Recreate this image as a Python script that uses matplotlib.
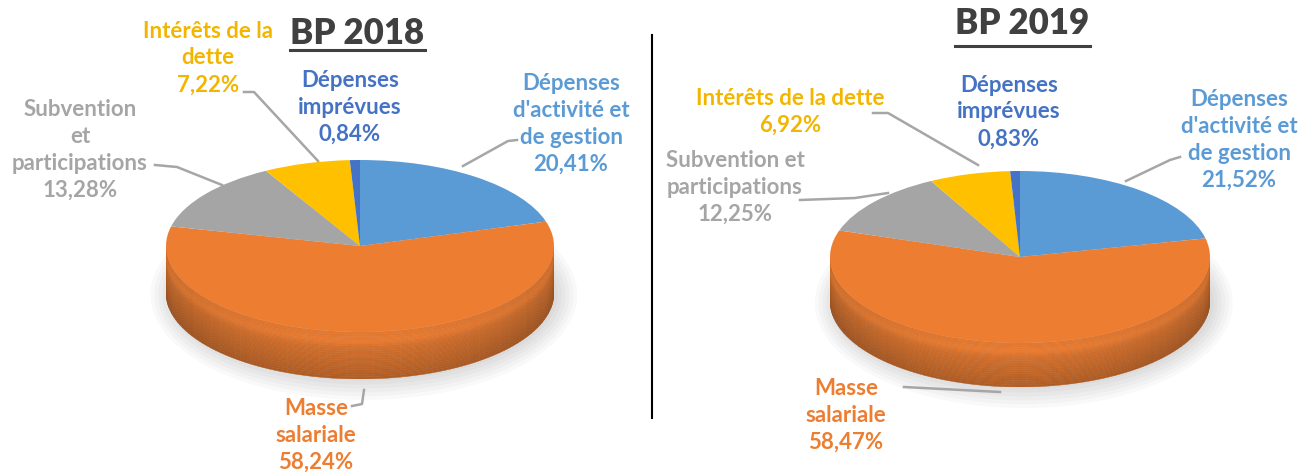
import numpy as np
import matplotlib.pyplot as plt
from matplotlib import font_manager
from matplotlib.collections import PolyCollection
from matplotlib.patches import Ellipse
from matplotlib.colors import to_rgb

# Data
categories = ["Dépenses d'activité et de gestion", 'Masse salariale',
              'Subvention et participations', 'Intérêts de la dette',
              'Dépenses imprévues']
bp2018 = [20.41, 58.24, 13.28, 7.22, 0.84]
bp2019 = [21.52, 58.47, 12.25, 6.92, 0.83]

labels_2018 = ["Dépenses\nd'activité et\nde gestion", "Masse\nsalariale",
               "Subvention\net\nparticipations", "Intérêts de la\ndette",
               "Dépenses\nimprévues"]
labels_2019 = ["Dépenses\nd'activité et\nde gestion", "Masse\nsalariale",
               "Subvention et\nparticipations", "Intérêts de la dette",
               "Dépenses\nimprévues"]

colors = ['#5B9BD5', '#ED7D31', '#A5A5A5', '#FFC000', '#4472C4']
text_colors = ['#5B9BD5', '#ED7D31', '#A5A5A5', '#F2B600', '#4472C4']

# font
names = {f.name for f in font_manager.fontManager.ttflist}
font = 'Lato' if 'Lato' in names else 'DejaVu Sans'
plt.rcParams['font.family'] = [font, 'DejaVu Sans']

W, H = 1304, 475
fig = plt.figure(figsize=(W / 100, H / 100), dpi=100)


def shade(c, f):
    r, g, b = to_rgb(c)
    return (min(r * f, 1), min(g * f, 1), min(b * f, 1))


def draw_pie(values, cx, cy, a, b, depth):
    d = depth / b
    ax = fig.add_axes([(cx - a) / W, (H - cy - b - depth) / H,
                       2 * a / W, (2 * b + depth) / H])
    frac = np.array(values) / sum(values)
    edges = 90 - 360 * np.concatenate([[0], np.cumsum(frac)])

    # soft shadow under the pie
    for k in range(6):
        ax.add_patch(Ellipse((0.02, -d - 0.02), 2.0 + 0.04 * k, 2.0 + 0.09 * k,
                             facecolor='black', alpha=0.025, lw=0,
                             clip_on=False, zorder=0))

    # side of the pie (front half only), smooth gradient
    polys, fcs = [], []
    nl = 20
    for i in range(len(values)):
        lo, hi = max(edges[i + 1], -180), min(edges[i], 0)
        if hi <= lo:
            continue
        ts = np.radians(np.linspace(lo, hi, max(int((hi - lo) / 2), 2) + 1))
        for j in range(len(ts) - 1):
            t0, t1 = ts[j], ts[j + 1]
            ang = abs(np.cos((t0 + t1) / 2)) ** 2
            for k in range(nl):
                y0, y1 = d * k / nl, d * (k + 1) / nl
                polys.append([(np.cos(t0), np.sin(t0) - y0),
                              (np.cos(t1), np.sin(t1) - y0),
                              (np.cos(t1), np.sin(t1) - y1),
                              (np.cos(t0), np.sin(t0) - y1)])
                u = (k + 0.5) / nl
                f = 0.96 - 0.22 * u - 0.10 * ang
                f += 0.06 * np.exp(-((u - 0.2) / 0.1) ** 2)
                fcs.append(shade(colors[i], f))
    ax.add_collection(PolyCollection(polys, facecolors=fcs, edgecolors=fcs,
                                     linewidths=0.3, zorder=1))

    wedges, _ = ax.pie(values, colors=colors, startangle=90, counterclock=False,
                       wedgeprops=dict(linewidth=0))
    for w in wedges:
        w.set_zorder(2)
    ax.set_aspect('auto')
    ax.set_xlim(-1, 1)
    ax.set_ylim(-1 - d, 1)
    ax.axis('off')
    return ax


draw_pie(bp2018, 360, 246, 194, 86, 47)
draw_pie(bp2019, 1020, 257, 190, 86, 44)

# overlay for text and lines
ax0 = fig.add_axes([0, 0, 1, 1], zorder=5)
ax0.set_xlim(0, W)
ax0.set_ylim(H, 0)
ax0.axis('off')

ax0.plot([652, 652], [35, 418], color='black', lw=1.5)

# titles
for txt, x, y, x0, x1, yu in [('BP 2018', 357, 33, 290, 425, 50),
                              ('BP 2019', 1022, 24, 955, 1090, 46)]:
    ax0.text(x, y, txt, ha='center', va='center', fontsize=25,
             fontweight='heavy', color='#404040')
    ax0.plot([x0, x1], [yu, yu], color='#404040', lw=2.2)

label_pos_2018 = [(571, 124), (316, 435), (80, 150), (208, 58), (350, 107)]
label_pos_2019 = [(1239, 140), (846, 415), (735, 187), (790, 112), (1009, 112)]

for vals, labels, pos in [(bp2018, labels_2018, label_pos_2018),
                          (bp2019, labels_2019, label_pos_2019)]:
    for v, lab, (x, y), c in zip(vals, labels, pos, text_colors):
        s = lab + '\n' + f'{v:.2f}'.replace('.', ',') + '%'
        ax0.text(x, y, s, ha='center', va='center', fontsize=16,
                 fontweight='bold', color=c, linespacing=1.35)

# leader lines
leaders = [
    [(244, 92), (254, 92), (318, 161)],
    [(517, 140), (508, 141), (463, 166)],
    [(155, 165), (177, 167), (222, 185)],
    [(352, 406), (362, 404), (364, 390)],
    [(873, 113), (888, 113), (978, 165)],
    [(1180, 157), (1170, 160), (1126, 181)],
    [(800, 200), (855, 198), (888, 193)],
    [(904, 387), (1000, 392)],
]
for pts in leaders:
    xs, ys = zip(*pts)
    ax0.plot(xs, ys, color='#A6A6A6', lw=1.8)

fig.savefig('out.png', dpi=100)
